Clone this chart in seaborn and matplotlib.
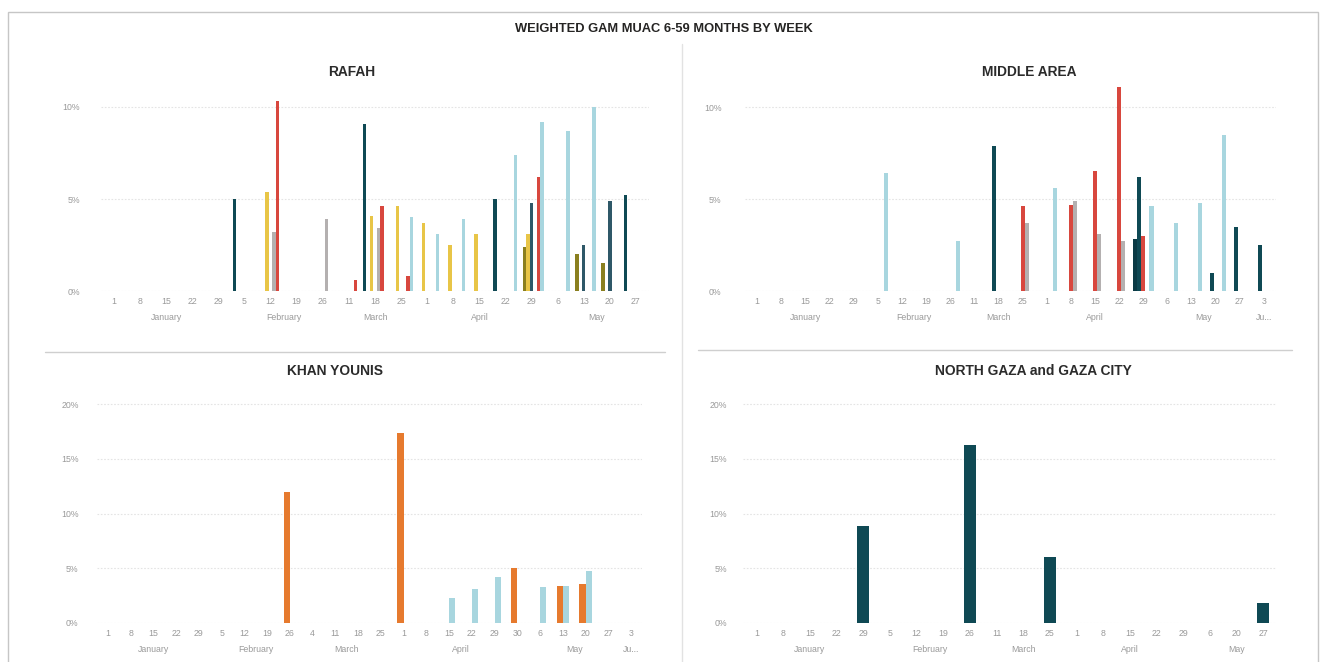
import numpy as np
import pandas as pd
import matplotlib
matplotlib.use("Agg")
import matplotlib.pyplot as plt
from matplotlib.lines import Line2D
from matplotlib.patches import Rectangle
import seaborn as sns

nan = np.nan

# ---------------- DATA ----------------
TITLE = "WEIGHTED GAM MUAC 6-59 MONTHS BY WEEK"

# RAFAH
rafah_days = ["1", "8", "15", "22", "29", "5", "12", "19", "26", "11", "18", "25",
              "1", "8", "15", "22", "29", "6", "13", "20", "27"]
rafah_months = ["January"] * 5 + ["February"] * 4 + ["March"] * 3 + ["April"] * 5 + ["May"] * 4
rafah_dark_teal = [nan, nan, nan, nan, nan, 5.0, nan, nan, nan, nan, 9.1, nan, nan, nan, nan, 5.0, nan, nan, nan, nan, 5.2]
rafah_olive     = [nan, nan, nan, nan, nan, nan, nan, nan, nan, nan, nan, nan, nan, nan, nan, nan, 2.4, nan, 2.0, 1.5, nan]
rafah_yellow    = [nan, nan, nan, nan, nan, nan, 5.4, nan, nan, nan, 4.1, 4.6, 3.7, 2.5, 3.1, nan, 3.1, nan, nan, nan, nan]
rafah_slate     = [nan, nan, nan, nan, nan, nan, nan, nan, nan, nan, nan, nan, nan, nan, nan, nan, 4.8, nan, 2.5, 4.9, nan]
rafah_gray      = [nan, nan, nan, nan, nan, nan, 3.2, nan, 3.9, nan, 3.4, nan, nan, nan, nan, nan, nan, nan, nan, nan, nan]
rafah_red       = [nan, nan, nan, nan, nan, nan, 10.3, nan, nan, 0.6, 4.6, 0.8, nan, nan, nan, nan, 6.2, nan, nan, nan, nan]
rafah_lightblue = [nan, nan, nan, nan, nan, nan, nan, nan, nan, nan, nan, 4.0, 3.1, 3.9, nan, 7.4, 9.2, 8.7, 10.0, nan, nan]

# MIDDLE AREA
middle_days = ["1", "8", "15", "22", "29", "5", "12", "19", "26", "11", "18", "25",
               "1", "8", "15", "22", "29", "6", "13", "20", "27", "3"]
middle_months = ["January"] * 5 + ["February"] * 4 + ["March"] * 3 + ["April"] * 5 + ["May"] * 4 + ["Ju..."]
middle_navy      = [nan, nan, nan, nan, nan, nan, nan, nan, nan, nan, nan, nan, nan, nan, nan, nan, 2.8, nan, nan, nan, nan, nan]
middle_dark_teal = [nan, nan, nan, nan, nan, nan, nan, nan, nan, nan, 7.9, nan, nan, nan, nan, nan, 6.2, nan, nan, 1.0, 3.5, 2.5]
middle_red       = [nan, nan, nan, nan, nan, nan, nan, nan, nan, nan, nan, 4.6, nan, 4.7, 6.5, 11.1, 3.0, nan, nan, nan, nan, nan]
middle_gray      = [nan, nan, nan, nan, nan, nan, nan, nan, nan, nan, nan, 3.7, nan, 4.9, 3.1, 2.7, nan, nan, nan, nan, nan, nan]
middle_lightblue = [nan, nan, nan, nan, nan, 6.4, nan, nan, 2.7, nan, nan, nan, 5.6, nan, nan, nan, 4.6, 3.7, 4.8, 8.5, nan, nan]

# KHAN YOUNIS
khan_days = ["1", "8", "15", "22", "29", "5", "12", "19", "26", "4", "11", "18", "25",
             "1", "8", "15", "22", "29", "30", "6", "13", "20", "27", "3"]
khan_months = ["January"] * 5 + ["February"] * 4 + ["March"] * 4 + ["April"] * 6 + ["May"] * 4 + ["Ju..."]
khan_orange    = [nan, nan, nan, nan, nan, nan, nan, nan, 12.0, nan, nan, nan, nan, 17.4, nan, nan, nan, nan, 5.0, nan, 3.4, 3.5, nan, nan]
khan_lightblue = [nan, nan, nan, nan, nan, nan, nan, nan, nan, nan, nan, nan, nan, nan, nan, 2.3, 3.1, 4.2, nan, 3.3, 3.4, 4.7, nan, nan]

# NORTH GAZA and GAZA CITY
north_days = ["1", "8", "15", "22", "29", "5", "12", "19", "26", "11", "18", "25",
              "1", "8", "15", "22", "29", "6", "20", "27"]
north_months = ["January"] * 5 + ["February"] * 4 + ["March"] * 3 + ["April"] * 5 + ["May"] * 3
north_dark_teal = [nan, nan, nan, nan, 8.9, nan, nan, nan, 16.3, nan, nan, 6.0, nan, nan, nan, nan, nan, nan, nan, 1.8]

# ---------------- STYLE ----------------
sns.set_theme(style="white")
plt.rcParams["font.family"] = ["Liberation Sans", "DejaVu Sans"]

C = {
    "dark teal": "#0f4954",
    "olive": "#8a7f1f",
    "yellow": "#e8c547",
    "slate": "#2f5868",
    "gray": "#b4b0b0",
    "red": "#d8473e",
    "light blue": "#a8d6df",
    "navy": "#0a3a44",
    "orange": "#e67a2e",
}

W, H = 1325, 662
fig = plt.figure(figsize=(W / 100, H / 100), dpi=100)
fig.patch.set_facecolor("white")

LBL = 6.3


def rect(l, t, r, b):
    return [l / W, 1 - b / H, (r - l) / W, (b - t) / H]


def make_panel(box, title, title_xy, days, months, series, ylim, yticks,
               width, ypad, mpad):
    ax = fig.add_axes(rect(*box))
    keys = [f"{m}-{i}" for i, m in enumerate(months)]
    rows = []
    for name, vals in series:
        for k, v in zip(keys, vals):
            rows.append({"week": k, "series": name, "value": v})
    df = pd.DataFrame(rows).dropna()
    hue_order = [n for n, _ in series]
    if len(series) > 1:
        sns.barplot(data=df, x="week", y="value", hue="series", order=keys,
                    hue_order=hue_order, palette={n: C[n] for n in hue_order},
                    width=width, errorbar=None, legend=False, ax=ax,
                    saturation=1, linewidth=0)
    else:
        sns.barplot(data=df, x="week", y="value", order=keys,
                    color=C[hue_order[0]], width=width, errorbar=None, ax=ax,
                    saturation=1, linewidth=0)
    ax.set_xlim(-0.5, len(keys) - 0.5)
    ax.set_ylim(*ylim)
    ax.set_yticks(yticks)
    ax.set_yticklabels([f"{v}%" for v in yticks])
    ax.set_xticks(range(len(keys)))
    ax.set_xticklabels(days)
    ax.set_xlabel("")
    ax.set_ylabel("")
    for s in ax.spines.values():
        s.set_visible(False)
    ax.tick_params(axis="both", length=0, labelsize=LBL, labelcolor="#9a9a9a")
    ax.tick_params(axis="y", pad=ypad)
    ax.tick_params(axis="x", pad=4.5)
    ax.yaxis.grid(True, color="#e4e4e4", linestyle=(0, (1.5, 1.5)), linewidth=0.8)
    ax.set_axisbelow(True)
    ax.set_facecolor("none")
    # month labels
    seen = []
    for m in months:
        if m not in seen:
            seen.append(m)
    for m in seen:
        idx = [i for i, mm in enumerate(months) if mm == m]
        ax.annotate(m, xy=((idx[0] + idx[-1]) / 2, 0), xycoords=("data", "axes fraction"),
                    xytext=(0, -mpad), textcoords="offset points",
                    ha="center", va="center", fontsize=LBL, color="#9a9a9a")
    fig.text(title_xy[0] / W, 1 - title_xy[1] / H, title, ha="center", va="center",
             fontsize=9.9, fontweight="bold", color="#2b2b2b")
    return ax


make_panel((101, 291 - 11 * 18.4, 649, 291), "RAFAH", (352, 72), rafah_days, rafah_months,
           [("dark teal", rafah_dark_teal), ("olive", rafah_olive), ("yellow", rafah_yellow),
            ("slate", rafah_slate), ("gray", rafah_gray), ("red", rafah_red),
            ("light blue", rafah_lightblue)],
           (0, 11), [0, 5, 10], 0.92, 15, 19)

make_panel((745, 291 - 11.5 * 18.4, 1276, 291), "MIDDLE AREA", (1029, 72), middle_days, middle_months,
           [("navy", middle_navy), ("dark teal", middle_dark_teal), ("red", middle_red),
            ("gray", middle_gray), ("light blue", middle_lightblue)],
           (0, 11.5), [0, 5, 10], 0.85, 17, 19)

make_panel((96.6, 622.7 - 20.5 * 10.92, 642.4, 622.7), "KHAN YOUNIS", (335, 371), khan_days, khan_months,
           [("orange", khan_orange), ("light blue", khan_lightblue)],
           (0, 20.5), [0, 5, 10, 15, 20], 0.55, 13, 19.5)

make_panel((743.4, 622.7 - 20.5 * 10.92, 1276.3, 622.7), "NORTH GAZA and GAZA CITY", (1033, 371),
           north_days, north_months,
           [("dark teal", north_dark_teal)],
           (0, 20.5), [0, 5, 10, 15, 20], 0.45, 12, 19.5)

# title and frame
fig.text(664 / W, 1 - 29 / H, TITLE, ha="center", va="center", fontsize=9.3,
         fontweight="bold", color="#252423")
fig.patches.append(Rectangle((8 / W, 0 - 5 / H), 1310 / W, (662 - 11.5 + 5) / H,
                             transform=fig.transFigure, fill=False,
                             edgecolor="#c6c6c6", linewidth=1.0))
fig.lines.append(Line2D([682 / W, 682 / W], [1 - 44 / H, 0], transform=fig.transFigure,
                        color="#e2e2e2", linewidth=1.0))
fig.lines.append(Line2D([45 / W, 665 / W], [1 - 352 / H, 1 - 352 / H], transform=fig.transFigure,
                        color="#cfcfcf", linewidth=1.0))
fig.lines.append(Line2D([698 / W, 1292 / W], [1 - 350 / H, 1 - 350 / H], transform=fig.transFigure,
                        color="#cfcfcf", linewidth=1.0))

fig.savefig("out.png", dpi=100, facecolor="white")
